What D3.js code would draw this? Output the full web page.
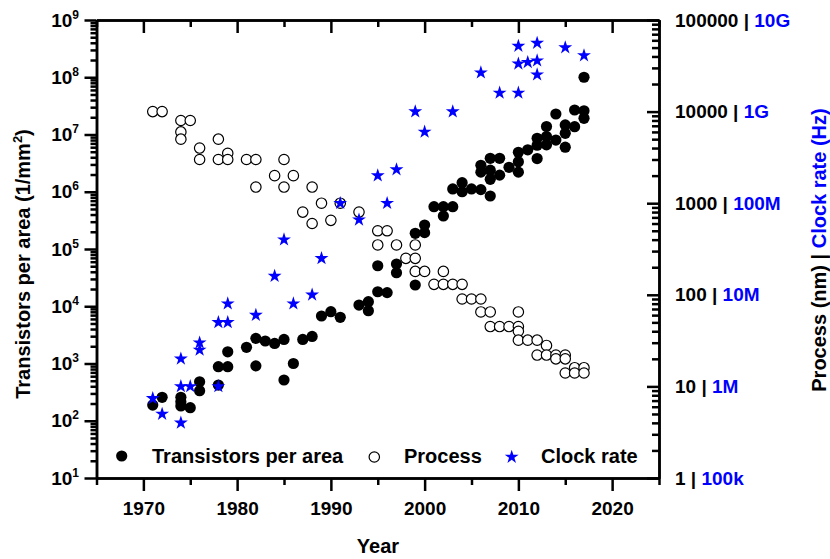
<!DOCTYPE html>
<html>
<head>
<meta charset="utf-8">
<script src="https://cdn.jsdelivr.net/npm/d3@7"></script>
<style>
  html, body { margin: 0; padding: 0; background: #fff; }
  svg text { font-family: "Liberation Sans", Arial, sans-serif; font-weight: bold; }
</style>
</head>
<body>
<svg id="chart" width="830" height="559"></svg>
<script>
// ---- data -------------------------------------------------------------
// Transistor density of microprocessors (transistors per mm^2)
const transistorYears = [1971,1972,1974,1974,1974,1975,1976,1976,1978,1978,1979,1979,1981,1982,1982,1983,1984,1985,1985,1986,
  1987,1988,1989,1990,1991,1993,1994,1994,1995,1995,1996,1997,1997,1999,1999,2000,2000,2001,2002,2002,
  2003,2003,2004,2004,2005,2006,2006,2006,2007,2007,2007,2007,2008,2008,2009,2010,2010,2010,2011,2012,
  2012,2012,2013,2013,2013,2014,2014,2015,2015,2015,2016,2016,2017,2017,2017];
const transistorDensity = [188,257,257,215,181,169,480,335,880,420,880,1600,1920,2750,910,2470,2240,2630,515,1000,
  2630,2970,6760,8040,6410,10500,12000,8360,17900,51000,17300,54700,38500,23500,188000,262000,193000,548000,548000,377000,
  548000,1120000,1440000,1000000,1120000,1090000,2900000,2200000,843000,3840000,2380000,1650000,3840000,1950000,2670000,4900000,3350000,2200000,5400000,8600000,
  6500000,3800000,13800000,9200000,6600000,22800000,8000000,14700000,10500000,6000000,26800000,13700000,26000000,19200000,100000000];

// Manufacturing process node (nm)
const processYears = [1971,1972,1974,1974,1974,1975,1976,1976,1978,1978,1979,1979,1981,1982,1982,1984,1985,1985,1986,1987,
  1988,1988,1989,1990,1991,1993,1995,1995,1996,1997,1998,1999,1999,1999,2000,2001,2002,2002,2003,2004,
  2004,2005,2006,2006,2007,2007,2008,2009,2010,2010,2010,2010,2011,2012,2012,2013,2013,2014,2014,2015,
  2015,2015,2016,2016,2017,2017];
const processNm = [10000,10000,8000,6000,5000,8000,4000,3000,5000,3000,3500,3000,3000,3000,1500,2000,3000,1500,2000,800,
  1500,600,1000,650,1000,800,500,350,500,350,250,350,250,180,180,130,180,130,130,130,
  90,90,90,65,65,45,45,45,65,45,40,32,32,32,22,28,22,22,20,22,
  20,14,16,14,16,14];

// Clock rate (Hz)
const clockYears = [1971,1972,1974,1974,1974,1975,1976,1976,1978,1978,1979,1979,1982,1984,1985,1986,1988,1989,1991,1993,
  1995,1996,1997,1999,2000,2003,2006,2008,2010,2010,2010,2011,2012,2012,2012,2015,2017];
const clockHz = [740e3,500e3,2e6,1e6,400e3,1e6,3e6,2.5e6,5e6,1e6,5e6,8e6,6e6,16e6,40e6,8e6,10e6,25e6,100e6,66e6,
  200e6,100e6,233e6,1e9,600e6,1e9,2.66e9,1.6e9,1.6e9,5.2e9,3.33e9,3.46e9,5.6e9,3.6e9,2.53e9,5e9,4.1e9];

// Axis ticks and labels
const yearTicks = [1970,1980,1990,2000,2010,2020];
const yearMinorTicks = [1965,1975,1985,1995,2005,2015,2025];
const densityTicks = [1e1,1e2,1e3,1e4,1e5,1e6,1e7,1e8,1e9];
const processTicks = [1,10,100,1000,10000,100000];
const clockTickLabels = ["100k","1M","10M","100M","1G","10G"];
const legendLabels = ["Transistors per area","Process","Clock rate"];

// ---- layout -----------------------------------------------------------
const BLUE = "#0000ff";
const L = 96.5, R = 659, T = 20, B = 478;
const svg = d3.select("#chart");

const x = d3.scaleLinear().domain([1965, 2025]).range([L, R]);
const yDensity = d3.scaleLog().domain([1e1, 1e9]).range([B, T]);
const yProcess = d3.scaleLog().domain([1, 1e5]).range([B, T]);
const yClock = d3.scaleLog().domain([1e5, 1e10]).range([B, T]);

function logMinors(lo, hi) {
  const out = [];
  for (let e = lo; e < hi; e++) for (let m = 2; m <= 9; m++) out.push(m * Math.pow(10, e));
  return out;
}

function styleAxis(g) {
  g.selectAll("path.domain").attr("stroke", "#000").attr("stroke-width", 2.5);
  g.selectAll(".tick line").attr("stroke", "#000").attr("stroke-width", 2.5);
  g.selectAll(".tick text").attr("fill", "#000").attr("font-size", 19)
    .attr("font-family", "'Liberation Sans', Arial, sans-serif").attr("font-weight", "bold");
}

// ---- data marks -------------------------------------------------------
const marks = svg.append("g");

marks.append("g").selectAll("circle")
  .data(d3.range(transistorYears.length))
  .join("circle")
  .attr("cx", i => x(transistorYears[i]))
  .attr("cy", i => yDensity(transistorDensity[i]))
  .attr("r", 5.6)
  .attr("fill", "#000");

marks.append("g").selectAll("circle")
  .data(d3.range(processYears.length))
  .join("circle")
  .attr("cx", i => x(processYears[i]))
  .attr("cy", i => yProcess(processNm[i]))
  .attr("r", 5.2)
  .attr("fill", "#fff")
  .attr("stroke", "#000")
  .attr("stroke-width", 1.2);

const star = d3.symbol(d3.symbolStar, 60);
marks.append("g").selectAll("path")
  .data(d3.range(clockYears.length))
  .join("path")
  .attr("d", star)
  .attr("transform", i => `translate(${x(clockYears[i])},${yClock(clockHz[i])})`)
  .attr("fill", BLUE);

// ---- axes -------------------------------------------------------------
// bottom
svg.append("g").attr("transform", `translate(0,${B})`)
  .call(d3.axisBottom(x).tickValues(yearMinorTicks).tickSize(7).tickSizeOuter(0).tickFormat(""))
  .call(styleAxis);
svg.append("g").attr("transform", `translate(0,${B})`)
  .call(d3.axisBottom(x).tickValues(yearTicks).tickSize(13).tickSizeOuter(0).tickPadding(11).tickFormat(d3.format("d")))
  .call(styleAxis);

// top (mirror, ticks pointing into the plot)
svg.append("g").attr("transform", `translate(0,${T})`)
  .call(d3.axisTop(x).tickValues(yearMinorTicks).tickSize(-7).tickSizeOuter(0).tickFormat(""))
  .call(styleAxis);
svg.append("g").attr("transform", `translate(0,${T})`)
  .call(d3.axisTop(x).tickValues(yearTicks).tickSize(-13).tickSizeOuter(0).tickFormat(""))
  .call(styleAxis);

// left: transistor density
svg.append("g").attr("transform", `translate(${L},0)`)
  .call(d3.axisLeft(yDensity).tickValues(logMinors(1, 9)).tickSize(6).tickSizeOuter(0).tickFormat(""))
  .call(styleAxis);
const leftAxis = svg.append("g").attr("transform", `translate(${L},0)`)
  .call(d3.axisLeft(yDensity).tickValues(densityTicks).tickSize(12).tickSizeOuter(0).tickPadding(5.5).tickFormat(""))
  .call(styleAxis);
leftAxis.selectAll(".tick text").each(function (d) {
  const t = d3.select(this);
  t.append("tspan").text("10");
  t.append("tspan").attr("dy", -8).attr("font-size", 12).text(Math.round(Math.log10(d)));
});

// right: process node | clock rate
svg.append("g").attr("transform", `translate(${R},0)`)
  .call(d3.axisRight(yProcess).tickValues(logMinors(0, 5)).tickSize(-7).tickSizeOuter(0).tickFormat(""))
  .call(styleAxis);
const rightAxis = svg.append("g").attr("transform", `translate(${R},0)`)
  .call(d3.axisRight(yProcess).tickValues(processTicks).tickSize(-12).tickSizeOuter(0).tickPadding(16).tickFormat(""))
  .call(styleAxis);
rightAxis.selectAll(".tick text").each(function (d, i) {
  const t = d3.select(this);
  t.append("tspan").attr("fill", "#000").text(`${d} | `);
  t.append("tspan").attr("fill", BLUE).text(clockTickLabels[i]);
});

// ---- axis titles ------------------------------------------------------
svg.append("text")
  .attr("x", 378).attr("y", 553)
  .attr("text-anchor", "middle").attr("font-size", 20)
  .text("Year");

const leftTitle = svg.append("text")
  .attr("transform", "translate(29.5,264) rotate(-90)")
  .attr("text-anchor", "middle").attr("font-size", 20);
leftTitle.append("tspan").text("Transistors per area (1/mm");
leftTitle.append("tspan").attr("dy", -8).attr("font-size", 13).text("2");
leftTitle.append("tspan").attr("dy", 8).text(")");

const rightTitle = svg.append("text")
  .attr("transform", "translate(826,250) rotate(-90)")
  .attr("text-anchor", "middle").attr("font-size", 20);
rightTitle.append("tspan").attr("fill", "#000").text("Process (nm) | ");
rightTitle.append("tspan").attr("fill", BLUE).text("Clock rate (Hz)");

// ---- legend -----------------------------------------------------------
const legendY = 456;
const legend = svg.append("g");
legend.append("circle").attr("cx", 121.7).attr("cy", legendY).attr("r", 5.6).attr("fill", "#000");
legend.append("text").attr("x", 152).attr("y", legendY + 7.3).attr("font-size", 20).text(legendLabels[0]);
legend.append("circle").attr("cx", 374.3).attr("cy", legendY + 1).attr("r", 5.2)
  .attr("fill", "#fff").attr("stroke", "#000").attr("stroke-width", 1.2);
legend.append("text").attr("x", 404).attr("y", legendY + 7.3).attr("font-size", 20).text(legendLabels[1]);
legend.append("path").attr("d", star).attr("transform", `translate(511.7,${legendY + 1})`).attr("fill", BLUE);
legend.append("text").attr("x", 541).attr("y", legendY + 7.3).attr("font-size", 20).text(legendLabels[2]);
</script>
</body>
</html>
